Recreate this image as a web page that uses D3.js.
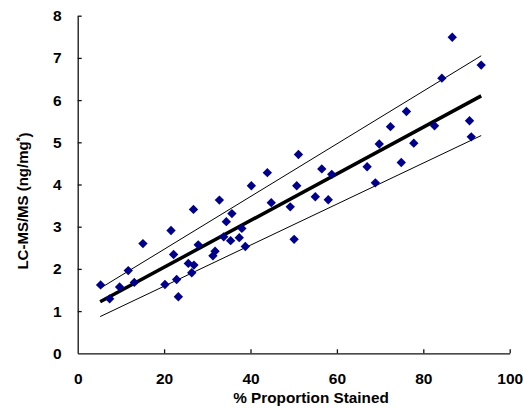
<!DOCTYPE html>
<html>
<head>
<meta charset="utf-8">
<script src="https://cdn.jsdelivr.net/npm/d3@7"></script>
<style>
body { margin: 0; background: #fff; }
svg { display: block; }
.axis text { font: bold 15.5px "Liberation Sans", Arial, sans-serif; fill: #000; }
.axis path, .axis line { stroke: #111; stroke-width: 1.3; }
</style>
</head>
<body>
<svg width="523" height="408"></svg>
<script>
// stained proportion (%) vs LC-MS/MS (ng/mg)
var stained = [5.3, 7.4, 9.7, 11.7, 13.1, 15.1, 20.2, 21.6, 22.2, 22.9,
               23.3, 25.6, 26.4, 26.8, 26.9, 27.9, 31.3, 31.8, 32.8, 33.8,
               34.4, 35.4, 35.7, 37.4, 38.0, 38.8, 40.2, 43.9, 44.8, 49.2,
               50.1, 50.7, 51.1, 55.0, 56.5, 58.0, 58.8, 67.0, 68.9, 69.8,
               72.4, 74.9, 76.1, 77.8, 82.6, 84.3, 86.7, 90.7, 91.1, 93.4];
var lcms = [1.62, 1.29, 1.57, 1.96, 1.68, 2.60, 1.63, 2.91, 2.34, 1.75,
            1.34, 2.13, 1.91, 3.41, 2.09, 2.57, 2.31, 2.42, 3.63, 2.76,
            3.12, 2.67, 3.31, 2.74, 2.96, 2.53, 3.97, 4.28, 3.57, 3.47,
            2.70, 3.97, 4.71, 3.71, 4.37, 3.64, 4.24, 4.42, 4.04, 4.96,
            5.37, 4.52, 5.73, 4.98, 5.39, 6.52, 7.49, 5.51, 5.13, 6.83];

// regression line and the two bounding lines, read at the ends
var lineX = [5.2, 93.4];
var fitY = [1.22, 6.10];
var upperY = [1.54, 7.05];
var lowerY = [0.87, 5.16];

var xTicks = [0, 20, 40, 60, 80, 100];
var yTicks = [0, 1, 2, 3, 4, 5, 6, 7, 8];

var svg = d3.select("svg");
var margin = {top: 15.7, left: 77.7};
var width = 432;
var height = 337.6;
var g = svg.append("g").attr("transform", "translate(" + margin.left + "," + margin.top + ")");

var x = d3.scaleLinear().domain([0, 100]).range([0, width]);
var y = d3.scaleLinear().domain([0, 8]).range([height, 0]);

g.append("g")
    .attr("class", "axis axis--x")
    .attr("transform", "translate(0," + height + ")")
    .call(d3.axisBottom(x).tickValues(xTicks).tickSizeInner(-4).tickSizeOuter(0).tickPadding(20))
    .call(function(a) { a.selectAll(".tick").filter(function(d) { return d === 0; }).select("line").remove(); });

g.append("g")
    .attr("class", "axis axis--y")
    .call(d3.axisLeft(y).tickValues(yTicks).tickSizeInner(-4).tickSizeOuter(0).tickPadding(16))
    .call(function(a) { a.selectAll(".tick").filter(function(d) { return d === 0; }).select("line").remove(); });

var line = d3.line()
    .x(function(d) { return x(d[0]); })
    .y(function(d) { return y(d[1]); });

function pairs(ys) { return lineX.map(function(v, i) { return [v, ys[i]]; }); }

g.append("path").attr("d", line(pairs(upperY)))
    .attr("fill", "none").attr("stroke", "#000").attr("stroke-width", 1);
g.append("path").attr("d", line(pairs(lowerY)))
    .attr("fill", "none").attr("stroke", "#000").attr("stroke-width", 1);
g.append("path").attr("d", line(pairs(fitY)))
    .attr("fill", "none").attr("stroke", "#000").attr("stroke-width", 3.5);

var pts = stained.map(function(v, i) { return [v, lcms[i]]; });
var diamond = d3.symbol().type(d3.symbolDiamond2).size(56);

g.selectAll(".pt")
    .data(pts)
    .enter()
    .append("path")
    .attr("class", "pt")
    .attr("transform", function(d) { return "translate(" + x(d[0]) + "," + y(d[1]) + ")"; })
    .attr("d", diamond)
    .attr("fill", "#00008b");

svg.append("text")
    .attr("x", 311)
    .attr("y", 403)
    .attr("text-anchor", "middle")
    .style("font", "bold 15.3px 'Liberation Sans', Arial, sans-serif")
    .text("% Proportion Stained");

var yt = svg.append("text")
    .attr("transform", "translate(28,201) rotate(-90)")
    .attr("text-anchor", "middle")
    .style("font", "bold 15px 'Liberation Sans', Arial, sans-serif");
yt.append("tspan").text("LC-MS/MS (ng/mg");
yt.append("tspan").attr("dy", "-0.4em").style("font-size", "10px").text("*");
yt.append("tspan").attr("dy", "0.4em").text(")");
</script>
</body>
</html>
